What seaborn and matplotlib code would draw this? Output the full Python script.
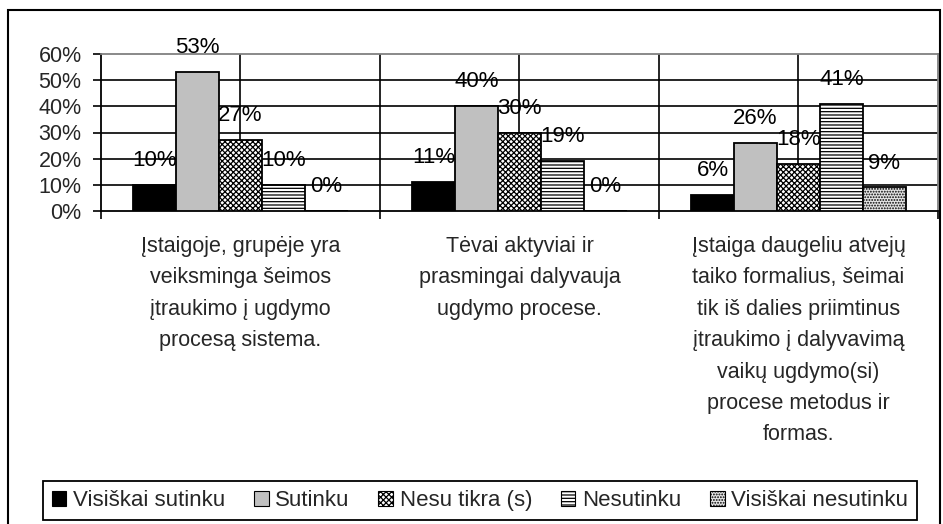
import matplotlib
matplotlib.use("Agg")
import matplotlib.pyplot as plt
import seaborn as sns
import pandas as pd
from matplotlib.patches import Rectangle, Patch

categories = [
    "Įstaigoje, grupėje yra\nveiksminga šeimos\nįtraukimo į ugdymo\nprocesą sistema.",
    "Tėvai aktyviai ir\nprasmingai dalyvauja\nugdymo procese.",
    "Įstaiga daugeliu atvejų\ntaiko formalius, šeimai\ntik iš dalies priimtinus\nįtraukimo į dalyvavimą\nvaikų ugdymo(si)\nprocese metodus ir\nformas.",
]
series = ["Visiškai sutinku", "Sutinku", "Nesu tikra (s)", "Nesutinku", "Visiškai nesutinku"]
visiskai_sutinku = [10, 11, 6]
sutinku = [53, 40, 26]
nesu_tikra = [27, 30, 18]
nesutinku = [10, 19, 41]
visiskai_nesutinku = [0, 0, 9]
ytick_values = [0, 10, 20, 30, 40, 50, 60]
ytick_labels = ["0%", "10%", "20%", "30%", "40%", "50%", "60%"]

values = [visiskai_sutinku, sutinku, nesu_tikra, nesutinku, visiskai_nesutinku]
rows = []
for s, vals in zip(series, values):
    for i, v in enumerate(vals):
        rows.append({"cat": f"c{i}", "series": s, "val": v})
df = pd.DataFrame(rows)

faces = ["black", "#c0c0c0", "white", "white", "#e6e6e6"]
hatches = [None, None, "xxxxxx", "-----", "......"]

sns.set_theme(style="white")
plt.rcParams["font.family"] = ["Liberation Sans", "DejaVu Sans"]
plt.rcParams["hatch.linewidth"] = 0.9
FS = 15.5

fig = plt.figure(figsize=(9.43, 5.24), dpi=100)
ax = fig.add_axes([101 / 943, 1 - 211 / 524, (938 - 101) / 943, (211 - 54) / 524])

sns.barplot(data=df, x="cat", y="val", hue="series", hue_order=series,
            palette=faces, width=0.77, gap=0, edgecolor="black", linewidth=1.3,
            saturation=1, legend=False, ax=ax, zorder=3)

for cont, fc, h in zip(ax.containers, faces, hatches):
    for p in cont:
        p.set_facecolor(fc)
        p.set_edgecolor("black")
        if h:
            p.set_hatch(h)
    ax.bar_label(cont, labels=[f"{int(round(b.get_height()))}%" for b in cont],
                 padding=10, fontsize=16, color="black", zorder=5)

ax.set_xlim(-0.5, 2.5)
ax.set_ylim(0, 60)
for y in ytick_values[1:-1]:
    ax.axhline(y, color="black", lw=1.2, zorder=1)
for x in [0, 0.5, 1, 1.5, 2]:
    ax.axvline(x, color="black", lw=1.2, zorder=1)

ax.set_yticks(ytick_values)
ax.set_yticklabels(ytick_labels, fontsize=FS)
ax.set_xticks([0, 1, 2])
ax.set_xticklabels(categories, fontsize=FS, linespacing=1.65)
ax.set_xticks([-0.5, 0.5, 1.5, 2.5], minor=True)
ax.tick_params(axis="y", which="major", direction="out", length=6, width=1.2,
               color="black", pad=8, left=True)
ax.tick_params(axis="x", which="major", length=0, pad=18, bottom=True)
ax.tick_params(axis="x", which="minor", direction="out", length=6, width=1.2,
               color="black", bottom=True)
ax.set_xlabel("")
ax.set_ylabel("")

for side in ["left", "bottom"]:
    ax.spines[side].set_color("black")
    ax.spines[side].set_linewidth(1.3)
for side in ["top", "right"]:
    ax.spines[side].set_color("#808080")
    ax.spines[side].set_linewidth(1.3)

handles = [Patch(facecolor=fc, edgecolor="black", hatch=h, linewidth=0.8)
           for fc, h in zip(faces, hatches)]
leg = fig.legend(handles, series, loc="center", bbox_to_anchor=(480 / 943, 1 - 500.5 / 524),
                 ncol=5, fontsize=16, frameon=True, fancybox=False, edgecolor="black",
                 framealpha=1, handlelength=0.65, handleheight=0.65, handletextpad=0.3,
                 columnspacing=1.3, borderpad=0.42, borderaxespad=0)
leg.get_frame().set_linewidth(1.3)

fig.patches.append(Rectangle((8 / 943, -10 / 524), (940 - 8) / 943, (514 + 10) / 524,
                             transform=fig.transFigure, fill=False, edgecolor="black",
                             linewidth=1.5, zorder=0))

fig.savefig("out.png", dpi=100)
